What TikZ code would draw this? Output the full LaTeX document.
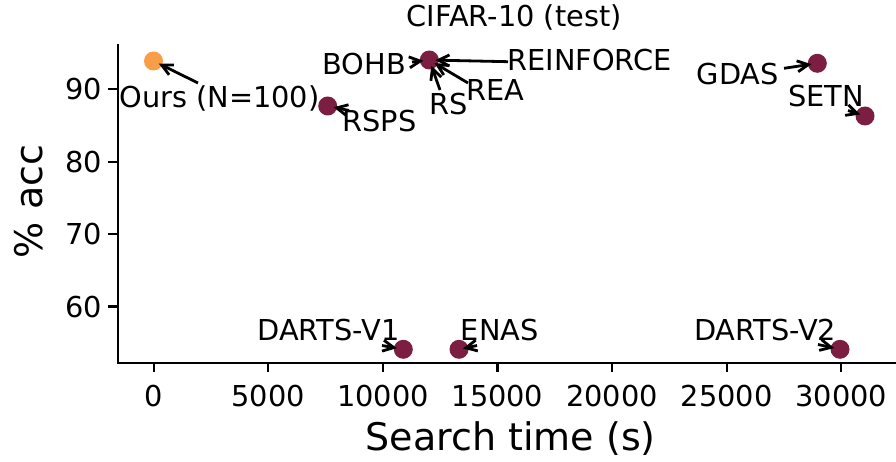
\documentclass[tikz,border=0pt]{standalone}
\usepackage{fontspec}
\setmainfont{DejaVu Sans}
\usetikzlibrary{arrows.meta}
\definecolor{maroon}{RGB}{124,29,66}
\definecolor{dotorange}{RGB}{249,157,70}
\begin{document}
\begin{tikzpicture}[x=1pt,y=-1pt,
  spine/.style={line width=2.2pt, line cap=rect},
  tickmark/.style={line width=2.2pt},
  dotmark/.style={circle, fill=#1, inner sep=0pt, minimum size=19pt},
  lbl/.style={anchor=base west, inner sep=0pt, font=\fontsize{28.8}{31}\selectfont},
  ticklbl/.style={inner sep=0pt, font=\fontsize{28.8}{31}\selectfont},
  axlbl/.style={inner sep=0pt, font=\fontsize{38}{41}\selectfont},
  arr/.style={-{Straight Barb[length=11pt,width=11pt]}, line width=2.8pt, shorten >=6pt}
]
\useasboundingbox (0,0) rectangle (896,462);

% spines
\draw[spine] (118,45) -- (118,362.7) -- (896,362.7);

% x ticks
\foreach \x/\l in {153.7/0, 268.3/5000, 382.9/10000, 497.5/15000, 612.1/20000, 726.7/25000, 841.3/30000}{
  \draw[tickmark] (\x,362.7) -- (\x,372.4);
  \node[ticklbl, anchor=base] (xt\l) at (\x,406.7) {\l};
}
% y ticks
\foreach \y/\l in {89.3/90, 161.7/80, 234.1/70, 306.5/60}{
  \draw[tickmark] (118,\y) -- (108.3,\y);
  \node[ticklbl, anchor=base east] (yt\l) at (102,\y+10.5) {\l};
}

% axis labels and title
\node[axlbl, anchor=base west] (xlabel) at (365.5,450) {Search time (s)};
\node[axlbl, rotate=90] (ylabel) at (29,201.5) {\% acc};
\node[ticklbl, anchor=base west] (title) at (406.5,26.7) {CIFAR-10 (test)};

% data points
\node[dotmark=dotorange] (dours) at (153.5,61) {};
\node[dotmark=maroon] (drsps) at (327.7,106) {};
\node[dotmark=maroon] (dcl) at (429.3,60) {};
\node[dotmark=maroon] (dgdas) at (817.3,63.3) {};
\node[dotmark=maroon] (dsetn) at (865,116) {};
\node[dotmark=maroon] (ddv1) at (403.3,349.3) {};
\node[dotmark=maroon] (denas) at (459,349.3) {};
\node[dotmark=maroon] (ddv2) at (840,349.3) {};

% labels
\node[lbl] (lours) at (119.2,107.3) {Ours (N=100)};
\node[lbl] (lrsps) at (342.3,131.7) {RSPS};
\node[lbl] (lbohb) at (322.3,75) {BOHB};
\node[lbl] (lrs) at (429,115) {RS};
\node[lbl] (lrea) at (466.3,101) {REA};
\node[lbl] (lrein) at (507.3,70.7) {REINFORCE};
\node[lbl] (lgdas) at (696.5,84.3) {GDAS};
\node[lbl] (lsetn) at (788.2,106.7) {SETN};
\node[lbl] (ldv1) at (257.3,340.7) {DARTS-V1};
\node[lbl] (lenas) at (460.6,340.7) {ENAS};
\node[lbl] (ldv2) at (694,340.7) {DARTS-V2};

% arrow tails
\coordinate (tours) at (198,83);
\coordinate (trsps) at (349,110.5);
\coordinate (tbohb) at (412,62);
\coordinate (trs) at (440,90);
\coordinate (trea) at (468,83);
\coordinate (trein) at (508,61.7);
\coordinate (tgdas) at (784,68.3);
\coordinate (tsetn) at (848,110.5);
\coordinate (tdv1) at (382,345.5);
\coordinate (tenas) at (477,345.5);
\coordinate (tdv2) at (818,344.5);

% arrows
\draw[arr] (tours) -- (dours.center);
\draw[arr] (trsps) -- (drsps.center);
\draw[arr] (tbohb) -- (dcl.center);
\draw[arr] (trs) -- (dcl.center);
\draw[arr] (trea) -- (dcl.center);
\draw[arr] (trein) -- (dcl.center);
\draw[arr] (tgdas) -- (dgdas.center);
\draw[arr, shorten >=5pt] (tsetn) -- (dsetn.center);
\draw[arr, shorten >=6.5pt] (tdv1) -- (ddv1.center);
\draw[arr, shorten >=4pt] (tenas) -- (denas.center);
\draw[arr] (tdv2) -- (ddv2.center);
\end{tikzpicture}
\end{document}
